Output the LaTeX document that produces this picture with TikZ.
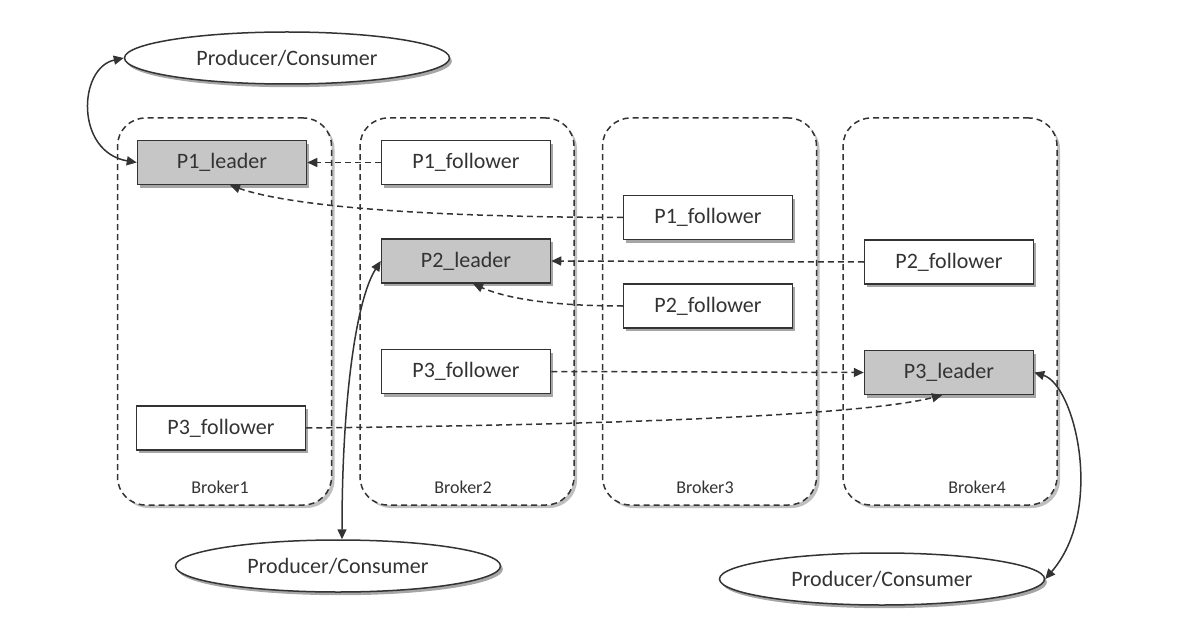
\documentclass[tikz,border=0pt]{standalone}
\usepackage{fontspec}
\setmainfont{Carlito}
\usetikzlibrary{arrows.meta,shadows,shapes.geometric}
\definecolor{ink}{HTML}{333333}
\definecolor{leadfill}{HTML}{C6C6C6}
\begin{document}
\begin{tikzpicture}[x=0.5pt,y=-0.5pt,
  shadowed/.style={drop shadow={shadow xshift=1.2pt,shadow yshift=-1.6pt,fill=black,opacity=0.35}},
  broker/.style={draw=ink,fill=white,line width=0.75pt,dash pattern=on 3pt off 2pt,rounded corners=14pt,
    minimum width=107pt,minimum height=193.5pt,inner sep=0pt,
    drop shadow={shadow xshift=1.5pt,shadow yshift=-1.5pt,fill=black,opacity=0.25}},
  part/.style={draw=ink,fill=white,line width=0.75pt,minimum width=84.5pt,minimum height=22pt,inner sep=0pt,
    font=\fontsize{11}{13}\selectfont,text=ink,shadowed},
  leader/.style={part,fill=leadfill},
  client/.style={ellipse,draw=ink,fill=white,line width=0.75pt,minimum width=162.5pt,minimum height=26pt,inner sep=0pt,
    font=\fontsize{11}{13}\selectfont,text=ink,shadowed},
  rep/.style={draw=ink,line width=0.75pt,dash pattern=on 3pt off 2pt,-{Triangle[length=5pt,width=4.5pt]}},
  io/.style={draw=ink,line width=0.75pt,{Triangle[length=5pt,width=4.5pt]}-{Triangle[length=5pt,width=4.5pt]}},
  lbl/.style={font=\fontsize{9}{11}\selectfont,text=ink}]
\useasboundingbox (0,0) rectangle (1182,636);

% brokers
\node[broker] (B1) at (224.5,311.5) {};
\node[broker] (B2) at (467,311.5) {};
\node[broker] (B3) at (709.5,311.5) {};
\node[broker] (B4) at (950,311.5) {};
\node[lbl] (L1) at (220,487) {Broker1};
\node[lbl] (L2) at (463,487) {Broker2};
\node[lbl] (L3) at (705,487) {Broker3};
\node[lbl] (L4) at (977,487) {Broker4};

% partitions
\node[leader] (P1L) at (222,162.5) {P1\_leader};
\node[part] (P1F2) at (466,162.5) {P1\_follower};
\node[part] (P1F3) at (708,217.5) {P1\_follower};
\node[leader] (P2L) at (466,261) {P2\_leader};
\node[part] (P2F4) at (949,262) {P2\_follower};
\node[part] (P2F3) at (708,306) {P2\_follower};
\node[part] (P3F2) at (466,371.5) {P3\_follower};
\node[leader] (P3L) at (949,372.5) {P3\_leader};
\node[part] (P3F1) at (221,428) {P3\_follower};

% clients
\node[client] (C1) at (287,58) {Producer/Consumer};
\node[client] (C2) at (338,566) {Producer/Consumer};
\node[client] (C3) at (882,579) {Producer/Consumer};

% replication
\draw[rep] (P1F2.west) -- (P1L.east);
\draw[rep] (P1F3.west) .. controls (420,217) and (290,206) .. ([xshift=4pt]P1L.south);
\draw[rep] (P2F4.west) -- (P2L.east);
\draw[rep] (P2F3.west) .. controls (560,306) and (510,300) .. ([xshift=3.5pt]P2L.south);
\draw[rep] (P3F2.east) -- (P3L.west);
\draw[rep] (P3F1.east) .. controls (600,425) and (860,416) .. ([xshift=-3.5pt]P3L.south);

% client connections
\draw[io] (C1.west) .. controls (78,68) and (75,152) .. (P1L.west);
\draw[io] ([xshift=2pt]C2.north) .. controls (342,400) and (356,300) .. (P2L.west);
\draw[io] (P3L.east) .. controls (1075,385) and (1105,510) .. (C3.east);
\end{tikzpicture}
\end{document}
